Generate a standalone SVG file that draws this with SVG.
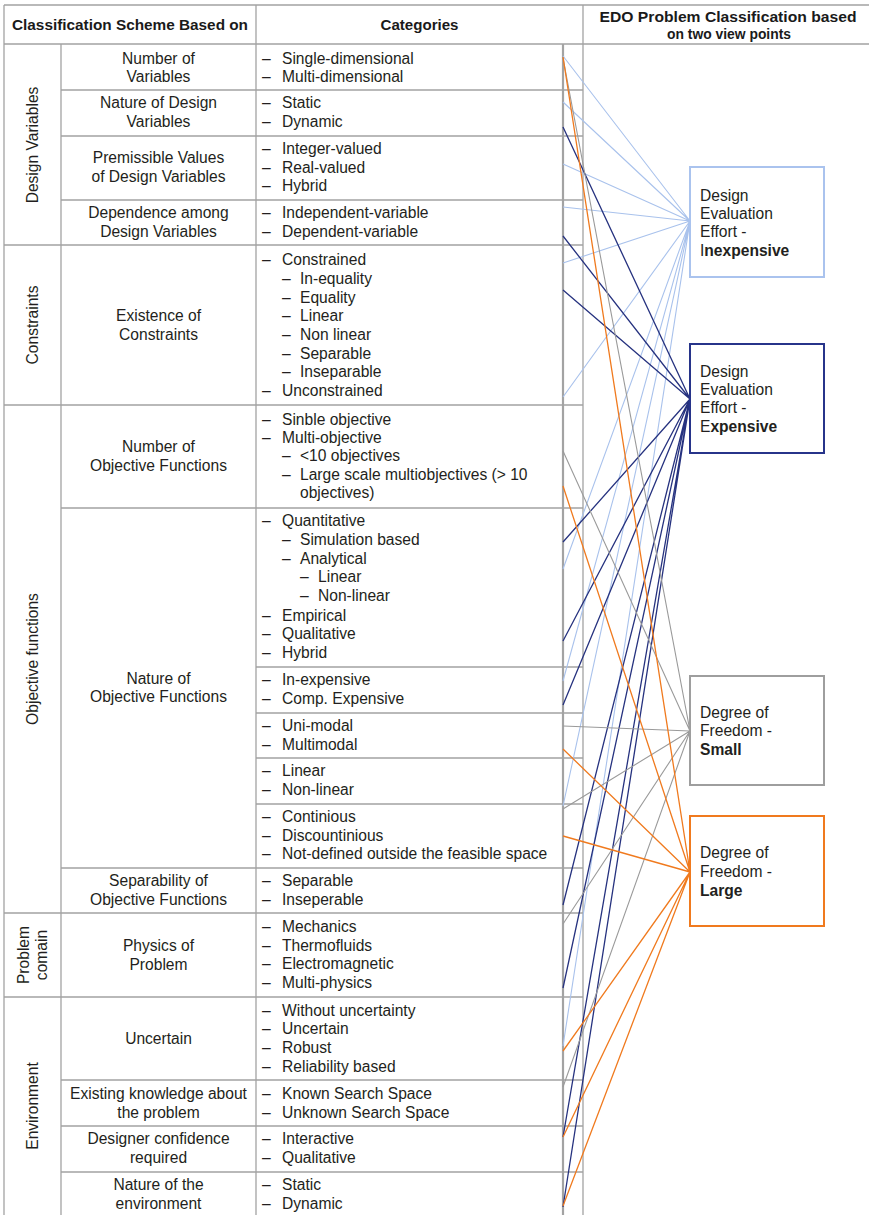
<svg xmlns="http://www.w3.org/2000/svg" width="869" height="1215" viewBox="0 0 869 1215">
<style>
.t{font-family:"Liberation Sans",Arial,Helvetica,sans-serif;font-size:15.6px;fill:#231f20}
.c{text-anchor:middle}
.h{font-family:"Liberation Sans",Arial,Helvetica,sans-serif;font-size:15px;font-weight:bold;fill:#1a1a1a;text-anchor:middle}
.b{font-weight:bold}
.g{stroke:#a3a3a3;stroke-width:1.3;fill:none}
.gt{stroke:#a3a3a3;stroke-width:2.2;fill:none}
.lb{stroke:#a9c2ec;stroke-width:1.1;fill:none}
.nv{stroke:#26327f;stroke-width:1.3;fill:none}
.gr{stroke:#9a9a9a;stroke-width:1.1;fill:none}
.or{stroke:#f07a1e;stroke-width:1.3;fill:none}
.box{fill:#fff;stroke-width:2}
</style>
<rect width="869" height="1215" fill="#fff"/>
<g id="grid">
<path class="g" d="M4 5H869M4 44H869M4 5V1215M61 44V1215M256 5V1215M583 5V1215"/>
<path class="gt" d="M563 44V1215"/>
<path class="g" d="M4 245H583M4 405H583M4 913H583M4 997H583"/>
<path class="g" d="M61 90H583M61 136H583M61 200H583M61 508H583M61 868H583M61 1080H583M61 1126H583M61 1172H583"/>
<path class="g" d="M256 667H583M256 713H583M256 758H583M256 804H583"/>
</g>
<g id="header">
<text class="h" x="130" y="30" textLength="236" lengthAdjust="spacingAndGlyphs">Classification Scheme Based on</text>
<text class="h" x="419.5" y="30" textLength="78" lengthAdjust="spacingAndGlyphs">Categories</text>
<text class="h" x="728" y="22" textLength="257" lengthAdjust="spacingAndGlyphs">EDO Problem Classification based</text>
<text class="h" x="729" y="39" textLength="124" lengthAdjust="spacingAndGlyphs">on two view points</text>
</g>
<g id="groups">
<text class="t c" transform="translate(38,145) rotate(-90)">Design Variables</text>
<text class="t c" transform="translate(38,325) rotate(-90)">Constraints</text>
<text class="t c" transform="translate(38,659) rotate(-90)">Objective functions</text>
<text class="t c" transform="translate(29,955) rotate(-90)">Problem</text>
<text class="t c" transform="translate(47,955) rotate(-90)">comain</text>
<text class="t c" transform="translate(38,1106) rotate(-90)">Environment</text>
</g>
<g id="schemes" class="t c">
<text class="t c" x="158.5" y="64">Number of</text>
<text class="t c" x="158.5" y="82">Variables</text>
<text class="t c" x="158.5" y="108">Nature of Design</text>
<text class="t c" x="158.5" y="127">Variables</text>
<text class="t c" x="158.5" y="163">Premissible Values</text>
<text class="t c" x="158.5" y="182">of Design Variables</text>
<text class="t c" x="158.5" y="218">Dependence among</text>
<text class="t c" x="158.5" y="237">Design Variables</text>
<text class="t c" x="158.5" y="321">Existence of</text>
<text class="t c" x="158.5" y="340">Constraints</text>
<text class="t c" x="158.5" y="452">Number of</text>
<text class="t c" x="158.5" y="471">Objective Functions</text>
<text class="t c" x="158.5" y="684">Nature of</text>
<text class="t c" x="158.5" y="702">Objective Functions</text>
<text class="t c" x="158.5" y="886">Separability of</text>
<text class="t c" x="158.5" y="905">Objective Functions</text>
<text class="t c" x="158.5" y="951">Physics of</text>
<text class="t c" x="158.5" y="970">Problem</text>
<text class="t c" x="158.5" y="1044">Uncertain</text>
<text class="t c" x="158.5" y="1099">Existing knowledge about</text>
<text class="t c" x="158.5" y="1118">the problem</text>
<text class="t c" x="158.5" y="1144">Designer confidence</text>
<text class="t c" x="158.5" y="1163">required</text>
<text class="t c" x="158.5" y="1190">Nature of the</text>
<text class="t c" x="158.5" y="1209">environment</text>
</g>
<g id="categories" class="t">
<text x="262" y="64">–</text><text x="282" y="64">Single-dimensional</text>
<text x="262" y="82">–</text><text x="282" y="82">Multi-dimensional</text>
<text x="262" y="108">–</text><text x="282" y="108">Static</text>
<text x="262" y="127">–</text><text x="282" y="127">Dynamic</text>
<text x="262" y="154">–</text><text x="282" y="154">Integer-valued</text>
<text x="262" y="173">–</text><text x="282" y="173">Real-valued</text>
<text x="262" y="191">–</text><text x="282" y="191">Hybrid</text>
<text x="262" y="218">–</text><text x="282" y="218">Independent-variable</text>
<text x="262" y="237">–</text><text x="282" y="237">Dependent-variable</text>
<text x="262" y="265">–</text><text x="282" y="265">Constrained</text>
<text x="282" y="284">–</text><text x="300" y="284">In-equality</text>
<text x="282" y="303">–</text><text x="300" y="303">Equality</text>
<text x="282" y="321">–</text><text x="300" y="321">Linear</text>
<text x="282" y="340">–</text><text x="300" y="340">Non linear</text>
<text x="282" y="359">–</text><text x="300" y="359">Separable</text>
<text x="282" y="377">–</text><text x="300" y="377">Inseparable</text>
<text x="262" y="396">–</text><text x="282" y="396">Unconstrained</text>
<text x="262" y="425">–</text><text x="282" y="425">Sinble objective</text>
<text x="262" y="443">–</text><text x="282" y="443">Multi-objective</text>
<text x="282" y="461">–</text><text x="300" y="461">&lt;10 objectives</text>
<text x="282" y="480">–</text><text x="300" y="480">Large scale multiobjectives (&gt; 10</text>
<text x="300" y="498">objectives)</text>
<text x="262" y="526">–</text><text x="282" y="526">Quantitative</text>
<text x="282" y="545">–</text><text x="300" y="545">Simulation based</text>
<text x="282" y="564">–</text><text x="300" y="564">Analytical</text>
<text x="300" y="582">–</text><text x="318" y="582">Linear</text>
<text x="300" y="601">–</text><text x="318" y="601">Non-linear</text>
<text x="262" y="621">–</text><text x="282" y="621">Empirical</text>
<text x="262" y="639">–</text><text x="282" y="639">Qualitative</text>
<text x="262" y="658">–</text><text x="282" y="658">Hybrid</text>
<text x="262" y="685">–</text><text x="282" y="685">In-expensive</text>
<text x="262" y="704">–</text><text x="282" y="704">Comp. Expensive</text>
<text x="262" y="731">–</text><text x="282" y="731">Uni-modal</text>
<text x="262" y="750">–</text><text x="282" y="750">Multimodal</text>
<text x="262" y="776">–</text><text x="282" y="776">Linear</text>
<text x="262" y="795">–</text><text x="282" y="795">Non-linear</text>
<text x="262" y="822">–</text><text x="282" y="822">Continious</text>
<text x="262" y="841">–</text><text x="282" y="841">Discountinious</text>
<text x="262" y="859">–</text><text x="282" y="859">Not-defined outside the feasible space</text>
<text x="262" y="886">–</text><text x="282" y="886">Separable</text>
<text x="262" y="905">–</text><text x="282" y="905">Inseperable</text>
<text x="262" y="932">–</text><text x="282" y="932">Mechanics</text>
<text x="262" y="951">–</text><text x="282" y="951">Thermofluids</text>
<text x="262" y="969">–</text><text x="282" y="969">Electromagnetic</text>
<text x="262" y="988">–</text><text x="282" y="988">Multi-physics</text>
<text x="262" y="1016">–</text><text x="282" y="1016">Without uncertainty</text>
<text x="262" y="1034">–</text><text x="282" y="1034">Uncertain</text>
<text x="262" y="1053">–</text><text x="282" y="1053">Robust</text>
<text x="262" y="1072">–</text><text x="282" y="1072">Reliability based</text>
<text x="262" y="1099">–</text><text x="282" y="1099">Known Search Space</text>
<text x="262" y="1118">–</text><text x="282" y="1118">Unknown Search Space</text>
<text x="262" y="1144">–</text><text x="282" y="1144">Interactive</text>
<text x="262" y="1163">–</text><text x="282" y="1163">Qualitative</text>
<text x="262" y="1190">–</text><text x="282" y="1190">Static</text>
<text x="262" y="1209">–</text><text x="282" y="1209">Dynamic</text>
</g>
<g id="connectors">
<path class="lb" d="M563 56L690 221M563 102L690 221M563 164L690 221M563 207L690 221M563 263L690 221M563 397L690 221M563 569L690 221M563 681L690 221M563 806L690 221M563 1046L690 221"/>
<path class="nv" d="M563 127L690 399M563 236L690 399M563 290L690 399M563 542L690 399M563 641L690 399M563 705L690 399M563 905L690 399M563 988L690 399M563 1137L690 399M563 1207L690 399"/>
<path class="gr" d="M563 58L690 731M563 451L690 731M563 726L690 731M563 809L690 731M563 924L690 731M563 1087L690 731"/>
<path class="or" d="M563 57L690 872M563 486L690 872M563 749L690 872M563 836L690 872M563 1051L690 872M563 1137L690 872M563 1206L690 872"/>
</g>
<g id="inexpensive">
<rect class="box" x="690" y="167" width="134" height="110" stroke="#aac3ee"/>
<text class="t" x="700" y="201">Design</text>
<text class="t" x="700" y="219">Evaluation</text>
<text class="t" x="700" y="237">Effort -</text>
<text class="t" x="700" y="256">I<tspan class="b">nexpensive</tspan></text>
</g>
<g id="expensive">
<rect class="box" x="690" y="344" width="134" height="109" stroke="#27348a"/>
<text class="t" x="700" y="377">Design</text>
<text class="t" x="700" y="395">Evaluation</text>
<text class="t" x="700" y="413">Effort -</text>
<text class="t" x="700" y="432">E<tspan class="b">xpensive</tspan></text>
</g>
<g id="small">
<rect class="box" x="690" y="676" width="134" height="109" stroke="#9e9e9e"/>
<text class="t" x="700" y="718">Degree of</text>
<text class="t" x="700" y="736">Freedom -</text>
<text class="t b" x="700" y="755">Small</text>
</g>
<g id="large">
<rect class="box" x="690" y="816" width="134" height="110" stroke="#f07a1e"/>
<text class="t" x="700" y="858">Degree of</text>
<text class="t" x="700" y="877">Freedom -</text>
<text class="t b" x="700" y="896">Large</text>
</g>
</svg>
